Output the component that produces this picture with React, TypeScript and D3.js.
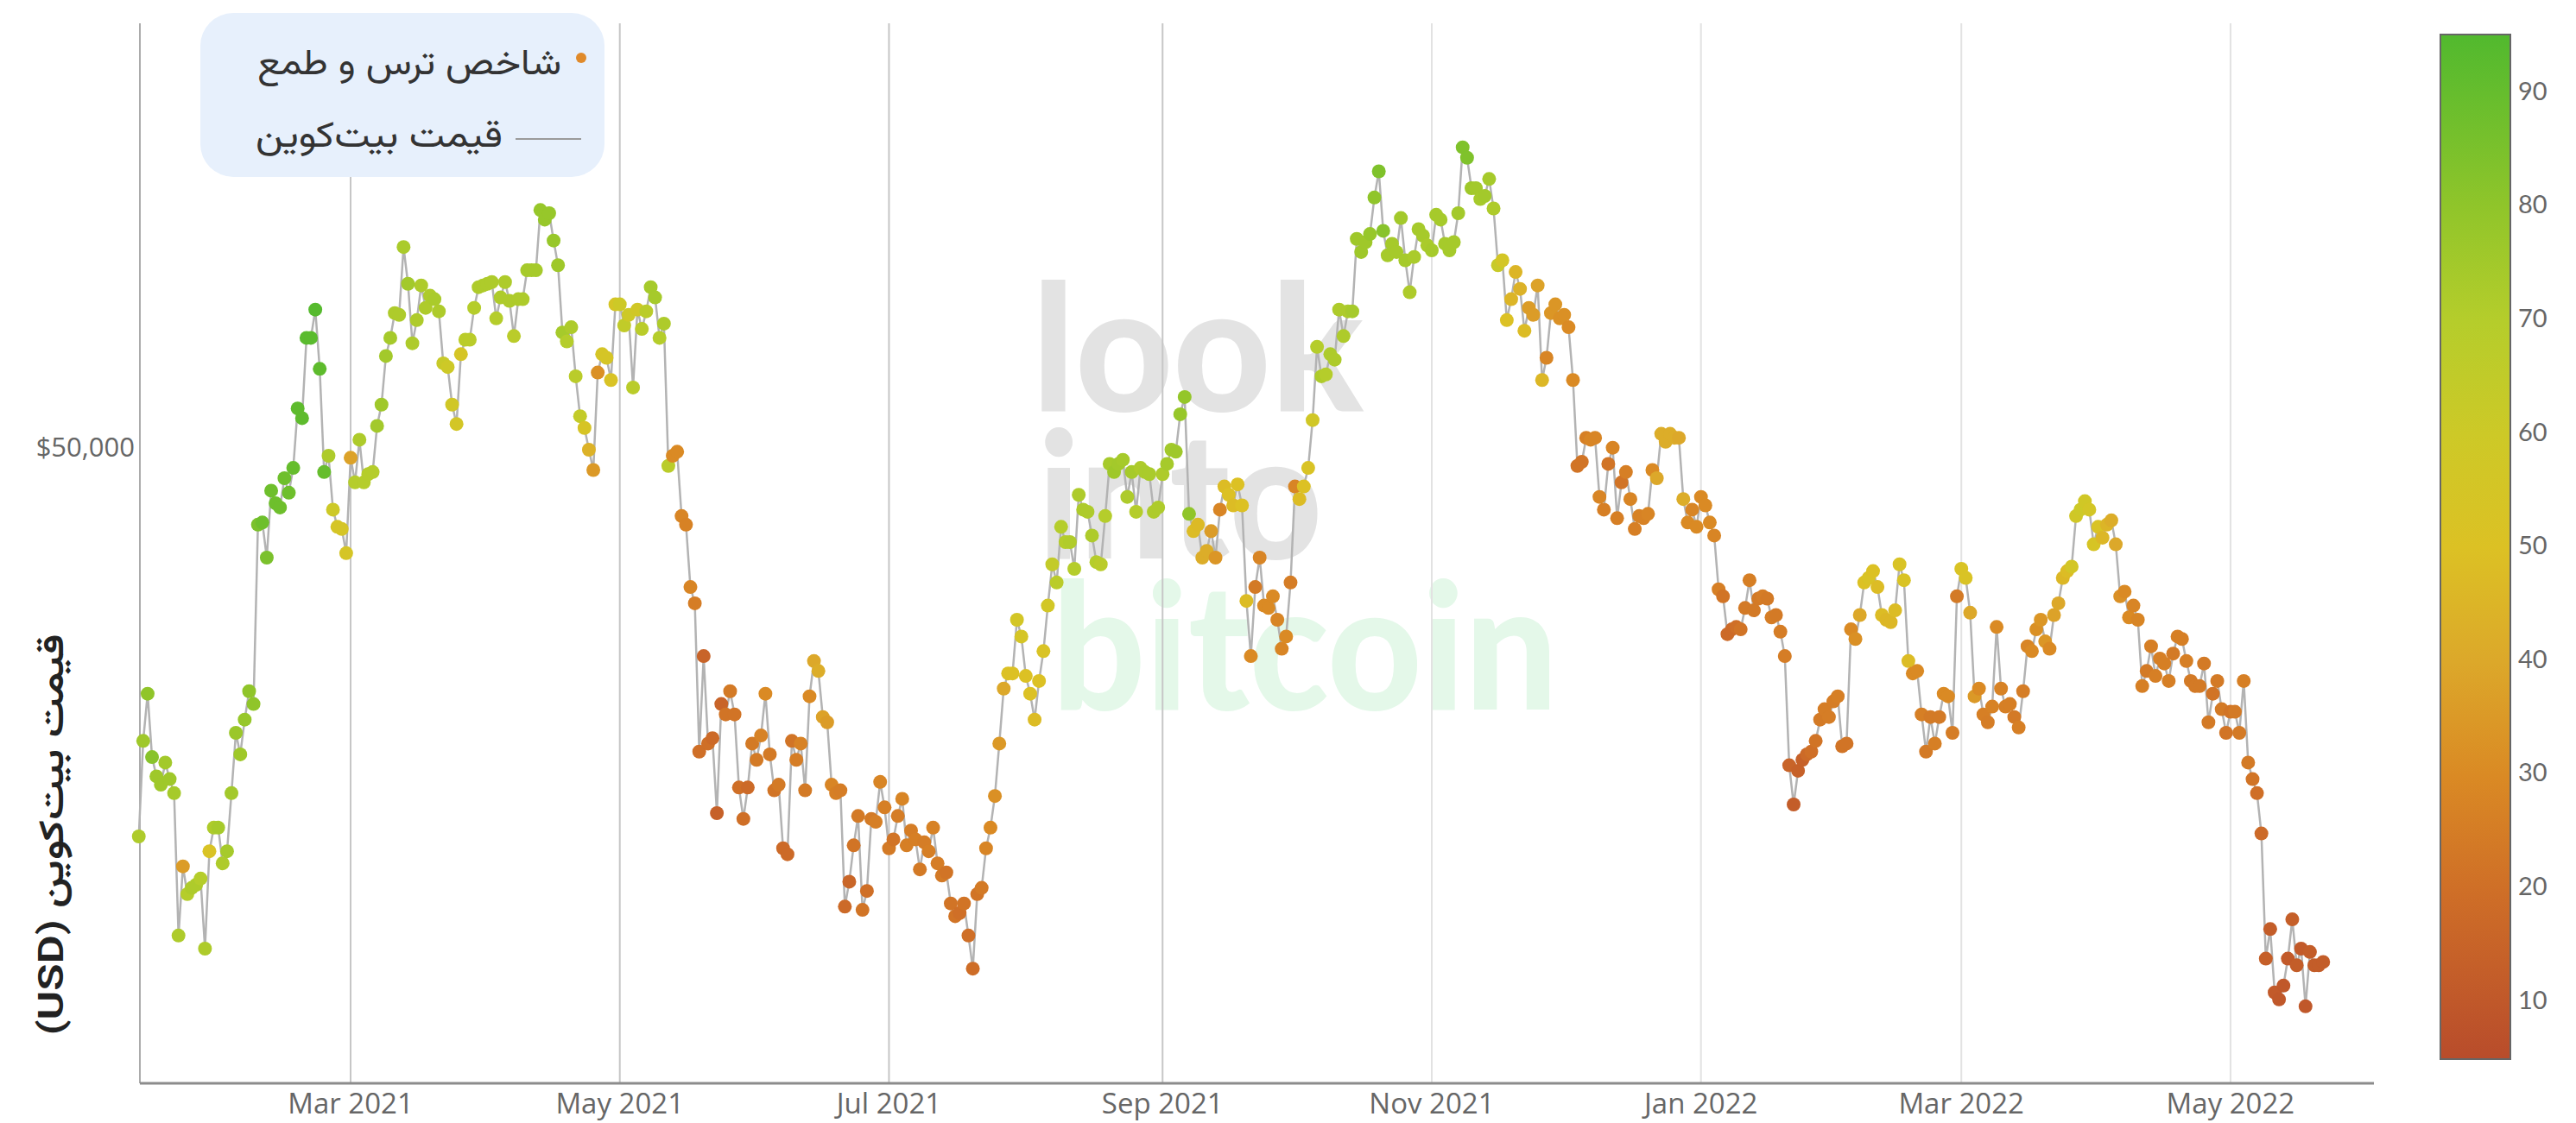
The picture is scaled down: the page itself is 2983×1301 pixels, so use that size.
import React from "react";
import * as d3 from "d3";

// first day of the daily series
const startDate = "2021-01-12";

// BTC daily close, thousands of USD
const priceK = [
  // Jan 2021 (from the 12th)
  34.0, 37.4, 39.2, 36.8, 36.1, 35.8, 36.6, 36.0, 35.5, 30.8, 33.0, 32.1, 32.3, 32.4, 32.6, 30.4, 33.5, 34.3, 34.3, 33.1,
  // Feb 2021
  33.5, 35.5, 37.7, 36.9, 38.2, 39.3, 38.8, 46.4, 46.5, 44.9, 48.0, 47.4, 47.2, 48.6, 47.9, 49.1, 52.1, 51.6, 55.9, 55.9,
  57.5, 54.2, 48.9, 49.7, 47.1, 46.3, 46.2, 45.1,
  // Mar 2021
  49.6, 48.4, 50.5, 48.4, 48.8, 48.9, 51.2, 52.3, 54.9, 55.9, 57.3, 57.2, 61.2, 59.0, 55.6, 56.9, 58.9, 57.6, 58.3, 58.1,
  57.4, 54.5, 54.3, 52.3, 51.3, 55.0, 55.8, 55.8, 57.6, 58.8, 58.9,
  // Apr 2021
  59.0, 59.1, 57.0, 58.2, 59.1, 58.0, 56.0, 58.1, 58.1, 59.8, 59.8, 59.8, 63.5, 62.9, 63.3, 61.6, 60.1, 56.2, 55.7, 56.5,
  53.8, 51.7, 51.1, 50.0, 49.0, 54.0, 55.0, 54.8, 53.6, 57.8,
  // May 2021
  57.8, 56.6, 57.2, 53.2, 57.5, 56.4, 57.4, 58.8, 58.2, 55.9, 56.7, 49.2, 49.7, 49.9, 46.8, 46.4, 43.6, 42.9, 37.0, 40.7,
  37.3, 37.5, 34.8, 38.8, 38.4, 39.3, 38.4, 35.7, 34.6, 35.7, 37.3,
  // Jun 2021
  36.7, 37.6, 39.2, 36.9, 35.6, 35.8, 33.6, 33.4, 37.4, 36.7, 37.3, 35.6, 39.1, 40.5, 40.1, 38.3, 38.1, 35.8, 35.5, 35.6,
  31.7, 32.5, 33.7, 34.7, 31.6, 32.2, 34.6, 34.5, 35.9, 35.0,
  // Jul 2021
  33.6, 33.9, 34.7, 35.3, 33.7, 34.2, 33.9, 32.9, 33.8, 33.5, 34.3, 33.1, 32.7, 32.8, 31.8, 31.4, 31.5, 31.8, 30.8, 29.8,
  32.1, 32.3, 33.6, 34.3, 35.4, 37.3, 39.4, 40.0, 40.0, 42.2, 41.5,
  // Aug 2021
  39.9, 39.2, 38.2, 39.7, 40.9, 42.8, 44.6, 43.8, 46.3, 45.6, 45.6, 44.4, 47.8, 47.1, 47.0, 45.9, 44.7, 44.6, 46.8, 49.3,
  48.9, 49.3, 49.5, 47.7, 48.9, 47.0, 49.1, 48.9, 48.8, 47.0, 47.2,
  // Sep 2021
  48.8, 49.3, 50.0, 49.9, 51.8, 52.7, 46.9, 46.1, 46.4, 44.9, 45.2, 46.1, 44.9, 47.1, 48.2, 47.8, 47.3, 48.3, 47.3, 43.0,
  40.7, 43.6, 44.9, 42.8, 42.7, 43.2, 42.2, 41.0, 41.5, 43.8,
  // Oct 2021
  48.2, 47.6, 48.2, 49.1, 51.5, 55.4, 53.8, 53.9, 55.0, 54.7, 57.5, 56.0, 57.4, 57.4, 61.7, 60.9, 61.5, 62.0, 64.3, 66.0,
  62.2, 60.7, 61.4, 60.9, 63.0, 60.4, 58.5, 60.6, 62.3, 61.9, 61.3,
  // Nov 2021
  61.0, 63.2, 62.9, 61.4, 61.0, 61.5, 63.3, 67.6, 66.9, 64.9, 64.9, 64.2, 64.4, 65.5, 63.6, 60.1, 60.4, 56.9, 58.1, 59.7,
  58.7, 56.3, 57.6, 57.2, 58.9, 53.6, 54.8, 57.3, 57.8, 57.0,
  // Dec 2021
  57.2, 56.5, 53.6, 49.2, 49.4, 50.6, 50.5, 50.6, 47.7, 47.1, 49.3, 50.1, 46.7, 48.4, 48.9, 47.6, 46.2, 46.8, 46.7, 46.9,
  49.0, 48.6, 50.8, 50.4, 50.8, 50.6, 50.6, 47.6, 46.5, 47.1, 46.3,
  // Jan 2022
  47.7, 47.3, 46.5, 45.9, 43.5, 43.2, 41.6, 41.8, 41.9, 41.8, 42.7, 43.9, 42.6, 43.1, 43.2, 43.1, 42.3, 42.4, 41.7, 40.7,
  36.5, 35.1, 36.3, 36.7, 36.9, 37.0, 37.4, 38.2, 38.6, 38.3, 38.9,
  // Feb 2022
  39.1, 37.2, 37.3, 41.8, 41.4, 42.4, 43.8, 44.0, 44.3, 43.6, 42.4, 42.2, 42.1, 42.6, 44.6, 43.9, 40.5, 40.0, 40.1, 38.4,
  37.0, 38.3, 37.3, 38.3, 39.2, 39.1, 37.7, 43.2,
  // Mar 2022
  44.4, 44.0, 42.5, 39.1, 39.4, 38.4, 38.1, 38.7, 41.9, 39.4, 38.7, 38.8, 38.3, 37.9, 39.3, 41.1, 40.9, 41.8, 42.2, 41.3,
  41.0, 42.4, 42.9, 44.0, 44.3, 44.5, 46.8, 47.1, 47.5, 47.1, 45.5,
  // Apr 2022
  46.3, 45.8, 46.4, 46.6, 45.5, 43.2, 43.4, 42.3, 42.8, 42.2, 39.5, 40.1, 41.1, 39.9, 40.6, 40.4, 39.7, 40.8, 41.5, 41.4,
  40.5, 39.7, 39.5, 39.5, 40.4, 38.1, 39.2, 39.7, 38.6, 37.7,
  // May 2022 (to the 22nd)
  38.5, 38.5, 37.7, 39.7, 36.6, 36.0, 35.5, 34.1, 30.1, 31.0, 29.1, 28.9, 29.3, 30.1, 31.3, 29.9, 30.4, 28.7, 30.3, 29.9,
  29.9, 30.0,
];

// fear & greed index, same days
const fearGreed = [
  // Jan 2021
  72, 76, 80, 82, 76, 76, 75, 76, 74, 72, 36, 70, 72, 72, 70, 72, 52, 72, 74, 72,
  // Feb 2021
  74, 75, 77, 76, 78, 80, 80, 85, 88, 85, 88, 88, 88, 88, 88, 90, 92, 92, 93, 93,
  94, 92, 90, 72, 60, 55, 55, 55,
  // Mar 2021
  38, 70, 72, 70, 70, 70, 75, 76, 75, 74, 72, 72, 73, 75, 72, 72, 72, 72, 72, 73,
  72, 62, 60, 58, 56, 55, 68, 68, 70, 72, 72,
  // Apr 2021
  72, 72, 70, 72, 72, 72, 68, 72, 72, 74, 74, 74, 78, 78, 78, 78, 76, 74, 70, 72,
  68, 64, 54, 44, 35, 32, 55, 55, 52, 55,
  // May 2021
  60, 65, 60, 68, 58, 68, 68, 74, 74, 70, 72, 68, 30, 30, 28, 27, 28, 25, 20, 15,
  20, 18, 14, 15, 22, 24, 22, 20, 20, 18, 24,
  // Jun 2021
  24, 27, 30, 24, 22, 24, 18, 18, 22, 25, 27, 24, 30, 40, 42, 38, 36, 28, 26, 25,
  18, 16, 22, 24, 22, 20, 24, 26, 28, 26,
  // Jul 2021
  24, 22, 25, 28, 26, 25, 26, 24, 25, 26, 27, 25, 24, 22, 22, 22, 20, 22, 20, 19,
  22, 24, 28, 30, 32, 35, 40, 50, 50, 56, 55,
  // Aug 2021
  50, 50, 48, 50, 52, 57, 64, 68, 70, 70, 71, 70, 72, 72, 72, 72, 70, 68, 70, 74,
  76, 75, 74, 72, 74, 70, 72, 73, 73, 72, 72,
  // Sep 2021
  72, 74, 75, 76, 78, 79, 80, 48, 47, 42, 42, 36, 34, 28, 48, 50, 48, 50, 50, 48,
  30, 24, 28, 30, 30, 30, 28, 28, 30, 25,
  // Oct 2021
  28, 48, 50, 52, 58, 70, 72, 70, 72, 72, 72, 72, 72, 74, 76, 76, 76, 78, 80, 84,
  82, 74, 74, 74, 75, 74, 72, 73, 74, 74, 73,
  // Nov 2021
  74, 74, 74, 74, 74, 74, 75, 84, 84, 76, 75, 74, 75, 74, 72, 62, 56, 50, 45, 45,
  44, 48, 36, 36, 38, 46, 28, 34, 34, 32,
  // Dec 2021
  32, 30, 30, 22, 22, 26, 28, 28, 28, 26, 22, 28, 26, 22, 26, 28, 26, 27, 27, 28,
  30, 40, 42, 42, 42, 42, 40, 42, 30, 28, 30,
  // Jan 2022
  30, 30, 30, 28, 26, 22, 18, 18, 20, 22, 24, 26, 24, 24, 25, 24, 25, 24, 25, 25,
  15, 12, 14, 14, 18, 20, 22, 24, 25, 25, 25,
  // Feb 2022
  26, 22, 22, 30, 32, 40, 50, 52, 50, 48, 48, 46, 46, 48, 52, 52, 48, 30, 30, 26,
  24, 24, 26, 24, 30, 30, 25, 24,
  // Mar 2022
  52, 52, 40, 35, 30, 26, 25, 27, 30, 27, 26, 26, 24, 26, 25, 28, 30, 32, 34, 34,
  30, 38, 40, 46, 48, 56, 58, 60, 58, 56, 54,
  // Apr 2022
  52, 46, 45, 42, 40, 32, 30, 30, 28, 28, 26, 24, 26, 26, 26, 26, 26, 24, 26, 26,
  26, 24, 24, 24, 24, 24, 22, 24, 24, 22,
  // May 2022
  22, 24, 24, 26, 24, 22, 20, 18, 13, 12, 11, 10, 10, 11, 13, 12, 11, 10, 12, 12,
  12, 12,
];

const xTickMonths = ["2021-03", "2021-05", "2021-07", "2021-09", "2021-11", "2022-01", "2022-03", "2022-05"];
const yTickValues = [50000];
const colorTicks = [10, 20, 30, 40, 50, 60, 70, 80, 90];

// colour ramp of the fear & greed axis
const rampValues = [5, 10, 20, 30, 40, 50, 60, 70, 80, 90, 95];
const rampColors = [
  "#b84c2b", "#c0582a", "#cf6f27", "#da8a24", "#dca82a", "#dcc124",
  "#cdc927", "#b5cd2b", "#90c52a", "#66bd2d", "#52b92e",
];

const legendLabels = ["شاخص ترس و طمع", "قیمت بیت\u200cکوین"];
const yTitle = "قیمت بیت\u200cکوین (USD)";
const watermark = ["look", "into", "bitcoin"];

const W = 2983;
const H = 1301;
const plot = { left: 162, right: 2749, top: 27, bottom: 1255 };
const bar = { x: 2826, y: 40, w: 81, h: 1187 };

const persian = "Vazirmatn, 'Noto Sans Arabic', 'DejaVu Sans', sans-serif";
const latin = "'Open Sans', 'Noto Sans', sans-serif";

const App: React.FC = () => {
  const t0 = d3.utcParse("%Y-%m-%d")(startDate)!;
  const data = priceK.map((p, i) => ({
    date: d3.utcDay.offset(t0, i),
    price: p * 1000,
    fng: fearGreed[i],
  }));

  const x = d3
    .scaleUtc()
    .domain([new Date(Date.UTC(2021, 0, 12, 6)), new Date(Date.UTC(2022, 5, 2, 12))])
    .range([plot.left, plot.right]);

  const y = d3.scaleLog().domain([26580, 76500]).range([plot.bottom, plot.top]);

  const color = d3
    .scaleLinear<string>()
    .domain(rampValues)
    .range(rampColors)
    .clamp(true);

  const cScale = d3.scaleLinear().domain([5, 95.2]).range([bar.y + bar.h, bar.y]);

  const line = d3
    .line<{ date: Date; price: number }>()
    .x((d) => x(d.date))
    .y((d) => y(d.price));

  const parseMonth = d3.utcParse("%Y-%m");
  const fmtMonth = d3.utcFormat("%b %Y");
  const xTicks = xTickMonths.map((m) => parseMonth(m)!);
  const fmtUsd = (v: number) => "$" + d3.format(",")(v);

  return (
    <svg
      width={W}
      height={H}
      style={{ position: "absolute", left: 0, top: 0, background: "#fff" }}
    >
      <defs>
        <linearGradient id="fngRamp" x1="0" y1="1" x2="0" y2="0">
          {rampValues.map((v, i) => (
            <stop
              key={v}
              offset={(v - 5) / (95.2 - 5)}
              stopColor={rampColors[i]}
            />
          ))}
        </linearGradient>
      </defs>

      {/* watermark, one block of three lines */}
      <text
        fontFamily="Lato, 'Open Sans', sans-serif"
        fontWeight={900}
        fontSize={205}
        fill="#e3e3e3"
      >
        <tspan x={1195} y={476} textLength={384} lengthAdjust="spacingAndGlyphs">
          {watermark[0]}
        </tspan>
        <tspan x={1202} y={647} textLength={329} lengthAdjust="spacingAndGlyphs">
          {watermark[1]}
        </tspan>
        <tspan x={1218} y={822} fill="#e4f8e9" textLength={586} lengthAdjust="spacingAndGlyphs">
          {watermark[2]}
        </tspan>
      </text>

      {/* vertical grid */}
      {xTicks.map((d, i) => (
        <line
          key={i}
          x1={x(d)}
          x2={x(d)}
          y1={plot.top}
          y2={plot.bottom}
          stroke={i < 4 ? "#c6c6c6" : "#e2e2e2"}
          strokeWidth={2}
        />
      ))}

      {/* left axis line */}
      <line x1={plot.left} x2={plot.left} y1={plot.top} y2={plot.bottom} stroke="#ababab" strokeWidth={2} />

      {/* price line */}
      <path d={line(data) ?? ""} fill="none" stroke="#b3b3b3" strokeWidth={2.5} />

      {/* fear & greed dots */}
      {data.map((d, i) => (
        <circle key={i} cx={x(d.date)} cy={y(d.price)} r={8} fill={color(d.fng)} />
      ))}

      {/* x axis */}
      <line x1={plot.left} x2={plot.right} y1={plot.bottom} y2={plot.bottom} stroke="#8c8c8c" strokeWidth={3} />
      {xTicks.map((d, i) => (
        <text
          key={i}
          x={x(d)}
          y={1290}
          textAnchor="middle"
          fontFamily={latin}
          fontSize={33}
          fill="#666"
        >
          {fmtMonth(d)}
        </text>
      ))}

      {/* y axis labels */}
      {yTickValues.map((v) => (
        <text
          key={v}
          x={156}
          y={y(v)}
          textAnchor="end"
          dominantBaseline="middle"
          fontFamily={latin}
          fontSize={31}
          fill="#666"
        >
          {fmtUsd(v)}
        </text>
      ))}

      {/* y axis title */}
      <text
        transform="translate(62,967) rotate(-90)"
        textAnchor="middle"
        dominantBaseline="middle"
        direction="rtl"
        fontFamily={persian}
        fontSize={40}
        fontWeight={600}
        fill="#222"
        textLength={465}
        lengthAdjust="spacingAndGlyphs"
      >
        {yTitle}
      </text>

      {/* legend */}
      <g>
        <rect x={232} y={15} width={468} height={190} rx={38} fill="#e7f0fc" />
        <circle cx={673} cy={67} r={6} fill="#e08a2a" />
        <text
          x={650}
          y={86}
          textAnchor="end"
          fontFamily={persian}
          fontSize={42}
          fill="#333"
          textLength={352}
          lengthAdjust="spacingAndGlyphs"
        >
          {legendLabels[0]}
        </text>
        <line x1={597} x2={673} y1={161} y2={161} stroke="#9a9a9a" strokeWidth={2} />
        <text
          x={582}
          y={170}
          textAnchor="end"
          fontFamily={persian}
          fontSize={42}
          fill="#333"
          textLength={286}
          lengthAdjust="spacingAndGlyphs"
        >
          {legendLabels[1]}
        </text>
      </g>

      {/* colour axis */}
      <rect
        x={bar.x}
        y={bar.y}
        width={bar.w}
        height={bar.h}
        fill="url(#fngRamp)"
        stroke="#666"
        strokeWidth={2}
      />
      {colorTicks.map((v) => (
        <text
          key={v}
          x={2916}
          y={cScale(v)}
          dominantBaseline="middle"
          fontFamily="Lato, 'Open Sans', sans-serif"
          fontSize={29}
          fill="#666"
        >
          {v}
        </text>
      ))}
    </svg>
  );
};

export default App;
